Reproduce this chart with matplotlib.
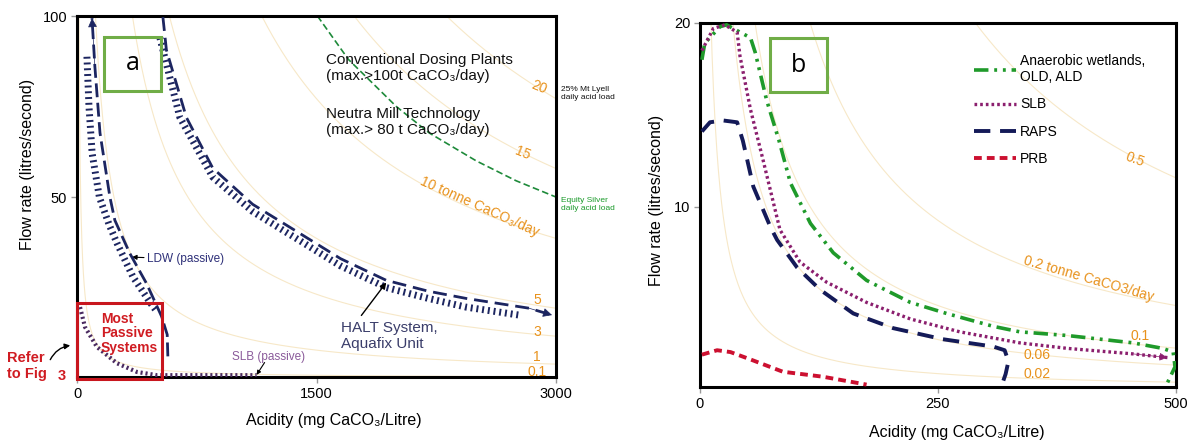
import numpy as np
import matplotlib
matplotlib.use('Agg')
import matplotlib.pyplot as plt
from matplotlib.patches import Rectangle
from matplotlib.lines import Line2D

plt.rcParams['font.family'] = ['Liberation Sans', 'DejaVu Sans']

# ---------------- Panel a data ----------------
a_load_levels = [0.1, 1, 3, 5, 10, 15, 20]          # tonne CaCO3/day iso-load lines
ldw_dash_x = [569, 565, 530, 437, 330, 237, 206, 144, 112, 94]
ldw_dash_y = [6, 12, 17, 26, 34.5, 43.6, 50, 67.7, 86, 99.4]
ldw_dot_x = [490, 456, 350, 250, 200, 140, 95, 75, 62]
ldw_dot_y = [19, 21, 28, 37.3, 42.5, 50, 62, 75, 89]
halt_dash_x = [538, 560, 685, 850, 1100, 1394, 1650, 1937, 2200, 2437, 2831, 2975]
halt_dash_y = [99.7, 90.6, 72, 58, 48, 40, 33, 27, 24, 22, 19.3, 17.4]
halt_dot_x = [519, 644, 850, 1100, 1394, 1650, 1937, 2200, 2437, 2769]
halt_dot_y = [94, 72, 55.5, 46, 38, 31, 25, 22, 19.6, 17.4]
slb_a_x = [19, 50, 125, 250, 375, 500, 1125]
slb_a_y = [19.6, 14.1, 8.6, 4.1, 1.7, 0.8, 0.8]
equity_x = [1506, 1700, 2000, 2206, 2500, 2750, 3000]
equity_y = [100, 88, 75, 67.7, 60, 54.5, 50]

# ---------------- Panel b data ----------------
b_load_levels = [0.02, 0.06, 0.1, 0.2, 0.5]
anaer_x = [2, 5, 21, 28, 42, 53, 58, 70, 83, 95, 116, 140, 175, 221, 259, 308, 336, 386, 455, 486, 497, 499, 491]
anaer_y = [18.0, 18.9, 19.8, 19.9, 19.5, 19.2, 18.4, 15.8, 13.6, 11.3, 9.1, 7.5, 6.0, 4.8, 4.2, 3.5, 3.2, 3.0, 2.6, 2.3, 2.1, 1.3, 0.43]
slb_b_x = [2, 14, 26, 39, 42, 53, 66, 84, 105, 133, 175, 221, 273, 336, 386, 455, 491]
slb_b_y = [18.5, 19.7, 19.9, 19.5, 18.2, 15.3, 12.6, 8.75, 7.0, 5.9, 4.8, 3.9, 3.2, 2.6, 2.3, 2.0, 1.8]
raps_x = [2, 10.5, 24, 39, 45, 56, 74, 81, 102, 126, 161, 203, 255, 308, 320, 324, 321, 317]
raps_y = [14.1, 14.6, 14.7, 14.6, 13.6, 11.1, 8.9, 8.2, 6.7, 5.5, 4.2, 3.4, 2.8, 2.4, 2.2, 1.6, 0.9, 0.3]
prb_x = [2, 18, 32, 53, 87, 129, 175]
prb_y = [1.96, 2.2, 2.1, 1.7, 1.03, 0.76, 0.33]
legend_labels = ['Anaerobic wetlands,\nOLD, ALD', 'SLB', 'RAPS', 'PRB']

KG = 8.64e-5  # (L/s)*(mg/L) -> tonne/day
ORANGE = '#e8921c'
CONTOUR = '#f7e8c8'
NAVY = '#1c2560'
RED = '#d01c22'

fig = plt.figure(figsize=(11.88, 4.41), dpi=100)

def arrow_end(ax, xs, ys, color, ms=14):
    ax.annotate('', xy=(xs[-1], ys[-1]), xytext=(xs[-2], ys[-2]),
                arrowprops=dict(arrowstyle='-|>', color=color, lw=0.5,
                                mutation_scale=ms, shrinkA=0, shrinkB=0))

def style_axes(ax):
    for s in ax.spines.values():
        s.set_linewidth(2.2)
        s.set_color('black')
    ax.tick_params(direction='out', length=4, width=1, color='#999999',
                   labelsize=10.5, pad=3)

# ================= Panel a =================
axa = fig.add_axes([77/1188, 1-377/441, 479/1188, 361/441])
axa.set_xlim(0, 3000)
axa.set_ylim(0.3, 100)
style_axes(axa)
axa.set_xticks([0, 1500, 3000])
axa.set_yticks([50, 100])

A = np.linspace(5, 3000, 600)
for L in a_load_levels:
    axa.plot(A, L / (A * KG), color=CONTOUR, lw=0.8, zorder=1)

axa.plot(equity_x, equity_y, color='#1e8a3a', lw=1.2, dashes=(4, 2), zorder=2)

axa.plot(ldw_dot_x, ldw_dot_y, color=NAVY, lw=5, dashes=(0.28, 0.55),
         dash_capstyle='butt', zorder=3)
axa.plot(ldw_dash_x, ldw_dash_y, color=NAVY, lw=2, dashes=(5, 2), zorder=4)
arrow_end(axa, ldw_dash_x, ldw_dash_y, NAVY)

axa.plot(halt_dot_x, halt_dot_y, color=NAVY, lw=5, dashes=(0.28, 0.55),
         dash_capstyle='butt', zorder=3)
axa.plot(halt_dash_x, halt_dash_y, color=NAVY, lw=2, dashes=(5, 2.5), zorder=4)
arrow_end(axa, halt_dash_x, halt_dash_y, NAVY)

axa.plot(slb_a_x, slb_a_y, color='#4a2a60', lw=3, dashes=(0.5, 0.7),
         dash_capstyle='butt', zorder=3)

axa.add_patch(Rectangle((0, -0.3), 530, 21.0, fill=False, ec='#c8161e', lw=2.2,
                        clip_on=False, zorder=5))
axa.text(150, 12.4, 'Most\nPassive\nSystems', color=RED, fontsize=10,
         fontweight='bold', ha='left', va='center', linespacing=1.05, zorder=6)
axa.text(-440, 3.3, 'Refer\nto Fig', color=RED, fontsize=10.5, fontweight='bold',
         ha='left', va='center', linespacing=1.15, clip_on=False)
axa.text(-94, 0.6, '3', color=RED, fontsize=10.5, fontweight='bold',
         ha='center', va='center', clip_on=False)
axa.annotate('', xy=(-25, 9.1), xytext=(-175, 4.4), annotation_clip=False,
             arrowprops=dict(arrowstyle='-|>', color='black', lw=1,
                             mutation_scale=8, connectionstyle='arc3,rad=-0.3'))

axa.annotate('LDW (passive)', xy=(344, 33.4), xytext=(437, 32.9), color='#2d2f78',
             fontsize=8.5, va='center', ha='left',
             arrowprops=dict(arrowstyle='-|>', color='black', lw=0.8, mutation_scale=7,
                             shrinkA=0, shrinkB=0))
axa.annotate('SLB (passive)', xy=(1125, 0.9), xytext=(969, 5.8), color='#8a5a9a',
             fontsize=8.5, va='center', ha='left')
axa.annotate('', xy=(1125, 0.9), xytext=(1175, 4.3),
             arrowprops=dict(arrowstyle='-|>', color='black', lw=0.8, mutation_scale=6,
                             shrinkA=0, shrinkB=0))
axa.text(1656, 11.6, 'HALT System,\nAquafix Unit', color='#3a3d6a', fontsize=11,
         ha='left', va='center', linespacing=1.15)
axa.annotate('', xy=(1937, 26.4), xytext=(1781, 17.3),
             arrowprops=dict(arrowstyle='-|>', color='black', lw=1, mutation_scale=9,
                             shrinkA=0, shrinkB=0))

axa.text(1562, 85.6, 'Conventional Dosing Plants\n(max.>100t CaCO\u2083/day)',
         fontsize=11, ha='left', va='center', linespacing=1.15, color='#111111')
axa.text(1562, 70.8, 'Neutra Mill Technology\n(max.> 80 t CaCO\u2083/day)',
         fontsize=11, ha='left', va='center', linespacing=1.15, color='#111111')

axa.text(2894, 80.4, '20', color=ORANGE, fontsize=10, rotation=-22, ha='center', va='center')
axa.text(2788, 62.2, '15', color=ORANGE, fontsize=10, rotation=-22, ha='center', va='center')
axa.text(2519, 47.2, '10 tonne CaCO\u2083/day', color=ORANGE, fontsize=10, rotation=-24,
         ha='center', va='center')
for lbl, yy in zip(['5', '3', '1', '0.1'], [21.5, 12.7, 5.8, 1.8]):
    axa.text(2880, yy, lbl, color=ORANGE, fontsize=10, ha='center', va='center')

axa.text(3030, 78.5, '25% Mt Lyell\ndaily acid load', fontsize=6, ha='left', va='center',
         color='#111111', clip_on=False, linespacing=1.2)
axa.text(3030, 48, 'Equity Silver\ndaily acid load', fontsize=6, ha='left', va='center',
         color='#1a9a2a', clip_on=False, linespacing=1.2)

fig.text(334/1188, 1-420/441, 'Acidity (mg CaCO\u2083/Litre)', fontsize=11.5,
         ha='center', va='center')
fig.text(28/1188, 1-164/441, 'Flow rate (litres/second)', fontsize=11.5,
         ha='center', va='center', rotation=90)

# ================= Panel b =================
axb = fig.add_axes([700/1188, 1-387/441, 476/1188, 364/441])
axb.set_xlim(0, 500)
axb.set_ylim(0.2, 20)
style_axes(axb)
axb.set_xticks([0, 250, 500])
axb.set_yticks([10, 20])

B = np.linspace(1, 500, 600)
for L in b_load_levels:
    axb.plot(B, L / (B * KG), color=CONTOUR, lw=0.8, zorder=1)

GREEN = '#1f9a2a'
PURPLE = '#8b1f6e'
DNAVY = '#141a58'
PRED = '#cc1030'
l1, = axb.plot(anaer_x, anaer_y, color=GREEN, lw=2.6,
               dashes=(4, 1.6, 0.8, 1.6, 0.8, 1.6), zorder=3)
l2, = axb.plot(slb_b_x, slb_b_y, color=PURPLE, lw=2.4, dashes=(0.8, 0.9), zorder=3)
arrow_end(axb, slb_b_x, slb_b_y, PURPLE, ms=12)
l3, = axb.plot(raps_x, raps_y, color=DNAVY, lw=2.8, dashes=(4.2, 2.5), zorder=3)
l4, = axb.plot(prb_x, prb_y, color=PRED, lw=2.8, dashes=(2, 1.3), zorder=3)

leg = axb.legend([l1, l2, l3, l4], legend_labels, loc='upper left',
                 bbox_to_anchor=(0.565, 0.93), frameon=False, fontsize=10,
                 handlelength=3.0, handletextpad=0.3, labelspacing=0.95,
                 borderaxespad=0)

axb.text(457, 12.55, '0.5', color=ORANGE, fontsize=10, rotation=-20, ha='center', va='center')
axb.text(408, 6.1, '0.2 tonne CaCO3/day', color=ORANGE, fontsize=10, rotation=-16,
         ha='center', va='center')
axb.text(462, 2.95, '0.1', color=ORANGE, fontsize=10, ha='center', va='center')
axb.text(354, 1.96, '0.06', color=ORANGE, fontsize=10, ha='center', va='center')
axb.text(354, 0.92, '0.02', color=ORANGE, fontsize=10, ha='center', va='center')

fig.text(957/1188, 1-432/441, 'Acidity (mg CaCO\u2083/Litre)', fontsize=11.5,
         ha='center', va='center')
fig.text(657/1188, 1-200/441, 'Flow rate (litres/second)', fontsize=11.5,
         ha='center', va='center', rotation=90)

# ---- "a" / "b" boxed labels ----
for (x0, y0, t) in [(104, 37, 'a'), (770, 38, 'b')]:
    fig.patches.append(Rectangle((x0/1188, 1-(y0+54)/441), 57/1188, 54/441,
                                 transform=fig.transFigure, fill=False,
                                 ec='#70ad47', lw=2.2, zorder=10))
    fig.text((x0+28.5)/1188, 1-(y0+27)/441, t, fontsize=18, ha='center', va='center',
             family=['Open Sans', 'DejaVu Sans'], zorder=11)

fig.savefig('out.png', dpi=100)
